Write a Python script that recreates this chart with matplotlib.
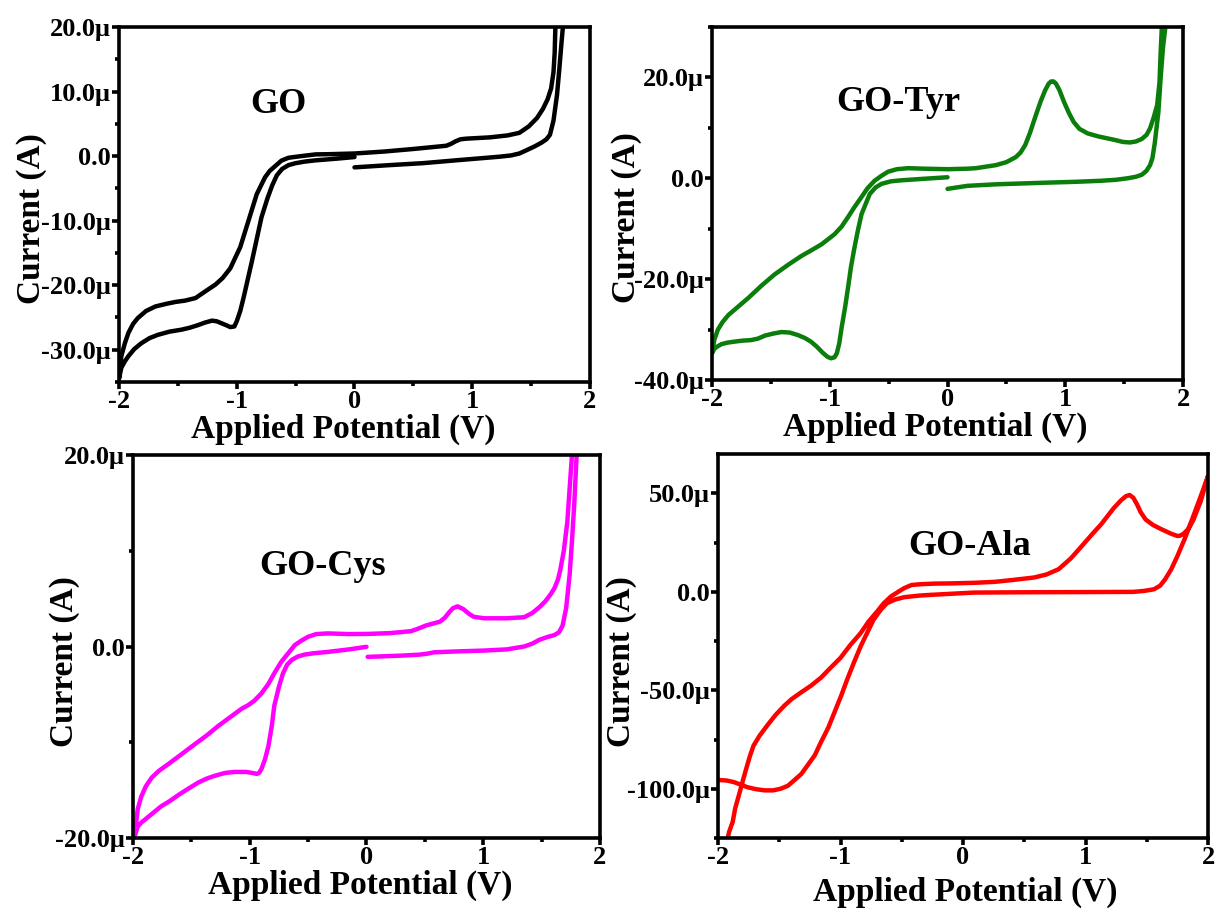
import matplotlib
matplotlib.use("Agg")
import matplotlib.pyplot as plt
from matplotlib.ticker import FuncFormatter, MultipleLocator

plt.rcParams['font.family'] = ['Liberation Serif', 'DejaVu Serif']
plt.rcParams['font.weight'] = 'bold'
plt.rcParams['axes.unicode_minus'] = False

# potentials (V) and currents (uA)
go_v = [0.0, 0.3, 0.58, 0.9, 1.23, 1.33, 1.40, 1.46, 1.53, 1.59, 1.63,
        1.66, 1.69, 1.72, 1.74, 1.76, 1.77, 1.78,
        1.71, 1.706, 1.70, 1.69, 1.67, 1.64, 1.60, 1.55, 1.48, 1.40, 1.30,
        1.15, 0.95, 0.90, 0.86, 0.82, 0.78, 0.5, 0.25, 0.0,
        -0.20, -0.33, -0.45, -0.56, -0.62, -0.67, -0.72, -0.76, -0.83, -0.90,
        -0.97, -1.055, -1.12, -1.18, -1.27, -1.35, -1.44, -1.52, -1.60, -1.69,
        -1.77, -1.84, -1.88, -1.92, -1.95, -1.98, -2.0,
        -1.98, -1.95, -1.92, -1.87, -1.81, -1.74, -1.67, -1.57, -1.47, -1.40,
        -1.33, -1.27, -1.21, -1.17, -1.13, -1.09, -1.055, -1.02, -1.0, -0.97,
        -0.94, -0.87, -0.79, -0.74, -0.70, -0.66, -0.615, -0.56, -0.50, -0.42,
        -0.33, -0.15, 0.0]
go_i = [-1.75, -1.4, -1.1, -0.6, -0.1, 0.1, 0.4, 0.9, 1.5, 2.1, 2.6,
        3.3, 5.5, 9.5, 13.6, 18.0, 20.0, 23.0,
        23.0, 20.0, 16.0, 13.0, 10.5, 8.8, 7.3, 5.9, 4.6, 3.6, 3.2,
        2.9, 2.7, 2.6, 2.3, 1.9, 1.6, 1.1, 0.7, 0.4,
        0.3, 0.26, 0.0, -0.26, -0.7, -1.5, -2.3, -3.3, -5.9, -10.0,
        -14.1, -17.4, -18.9, -19.9, -21.0, -22.0, -22.4, -22.6, -22.9, -23.3,
        -24.0, -25.1, -26.0, -27.4, -29.0, -31.0, -34.5,
        -32.8, -31.8, -31.0, -29.9, -29.0, -28.2, -27.7, -27.2, -26.9, -26.6,
        -26.2, -25.8, -25.5, -25.6, -25.9, -26.2, -26.5, -26.4, -25.6, -24.0,
        -21.8, -16.2, -9.5, -6.6, -4.6, -3.0, -2.0, -1.4, -1.1, -0.85,
        -0.66, -0.4, -0.15]

tyr_v = [0.0, 0.17, 0.41, 0.8, 1.09, 1.30, 1.43, 1.53, 1.60, 1.65, 1.69,
         1.72, 1.74, 1.76, 1.79, 1.81, 1.83, 1.85, 1.86,
         1.83, 1.82, 1.81, 1.80, 1.78, 1.75, 1.72, 1.69, 1.65, 1.60, 1.55,
         1.49, 1.42, 1.36, 1.28, 1.19, 1.12, 1.07, 1.03, 0.99, 0.95, 0.92,
         0.90, 0.88, 0.86, 0.83, 0.79, 0.75, 0.70, 0.66, 0.62, 0.58, 0.50,
         0.41, 0.24, 0.17, 0.0, -0.2, -0.335, -0.43, -0.505, -0.56, -0.62,
         -0.68, -0.73, -0.79, -0.845, -0.90, -0.96, -1.02, -1.07, -1.15,
         -1.24, -1.35, -1.47, -1.58, -1.69, -1.78, -1.86, -1.91, -1.95,
         -1.98, -2.0,
         -1.98, -1.95, -1.92, -1.87, -1.81, -1.74, -1.67, -1.61, -1.55,
         -1.48, -1.41, -1.34, -1.27, -1.21, -1.16, -1.11, -1.06, -1.02,
         -0.99, -0.96, -0.94, -0.92, -0.90, -0.87, -0.845, -0.82, -0.79,
         -0.76, -0.73, -0.69, -0.66, -0.61, -0.56, -0.48, -0.39, -0.2, 0.0]
tyr_i = [-2.1, -1.5, -1.2, -0.9, -0.7, -0.5, -0.3, 0.0, 0.3, 0.7, 1.5,
         2.6, 4.0, 7.0, 13.0, 20.0, 26.0, 30.0, 33.0,
         33.0, 30.0, 25.0, 19.0, 14.5, 12.0, 9.9, 8.6, 7.8, 7.3, 7.1,
         7.2, 7.6, 7.9, 8.3, 8.9, 9.8, 11.2, 13.0, 15.1, 17.5, 18.8,
         19.2, 19.2, 18.8, 17.5, 15.2, 12.5, 9.0, 6.6, 5.1, 4.2, 3.2,
         2.6, 2.0, 1.9, 1.8, 1.9, 2.0, 1.8, 1.3, 0.5, -0.5,
         -2.0, -3.7, -5.7, -7.7, -9.6, -11.1, -12.2, -13.1, -14.2,
         -15.4, -17.1, -19.1, -21.3, -23.7, -25.5, -27.1, -28.5, -30.0,
         -32.0, -34.7,
         -33.8, -33.3, -32.9, -32.6, -32.4, -32.2, -32.1, -31.8, -31.2,
         -30.8, -30.5, -30.6, -31.1, -31.7, -32.4, -33.4, -34.6, -35.4,
         -35.7, -35.5, -34.7, -32.8, -29.7, -25.6, -21.7, -17.6, -13.7,
         -10.2, -7.1, -4.8, -3.1, -1.8, -1.1, -0.6, -0.4, -0.1, 0.2]

cys_v = [0.01, 0.3, 0.45, 0.52, 0.58, 0.8, 1.01, 1.2, 1.35, 1.42, 1.48,
         1.55, 1.61, 1.65, 1.68, 1.71, 1.74, 1.76, 1.78, 1.80, 1.81,
         1.77, 1.76, 1.74, 1.72, 1.69, 1.66, 1.64, 1.61, 1.58, 1.53, 1.48,
         1.42, 1.35, 1.2, 1.01, 0.92, 0.88, 0.83, 0.78, 0.74, 0.71, 0.67,
         0.63, 0.57, 0.51, 0.45, 0.38, 0.2, 0.02, -0.15, -0.33, -0.43, -0.50,
         -0.56, -0.615, -0.67, -0.73, -0.79, -0.84, -0.90, -0.96, -1.01,
         -1.07, -1.17, -1.27, -1.37, -1.47, -1.59, -1.70, -1.78, -1.84,
         -1.89, -1.93, -1.96, -1.97, -1.99,
         -1.96, -1.93, -1.90, -1.83, -1.76, -1.68, -1.61, -1.52, -1.44,
         -1.37, -1.30, -1.21, -1.13, -1.08, -1.03, -0.98, -0.94, -0.92,
         -0.90, -0.87, -0.84, -0.81, -0.79, -0.75, -0.715, -0.68, -0.64,
         -0.59, -0.53, -0.45, -0.33, -0.15, 0.0]
cys_i = [-1.08, -0.95, -0.85, -0.75, -0.6, -0.5, -0.42, -0.3, 0.0, 0.3, 0.7,
         1.0, 1.2, 1.5, 2.2, 4.0, 7.5, 11.0, 15.0, 20.0, 22.0,
         22.0, 20.0, 16.5, 13.0, 10.0, 8.0, 7.0, 6.1, 5.5, 4.7, 4.1,
         3.5, 3.06, 2.95, 2.95, 3.1, 3.4, 3.9, 4.2, 4.0, 3.6, 3.0,
         2.6, 2.4, 2.2, 1.9, 1.6, 1.4, 1.32, 1.3, 1.37, 1.3, 1.02,
         0.6, 0.14, -0.7, -1.6, -2.8, -3.9, -4.9, -5.65, -6.1,
         -6.5, -7.4, -8.3, -9.3, -10.2, -11.3, -12.3, -13.0, -13.7,
         -14.6, -15.7, -17.0, -18.1, -20.0,
         -18.8, -18.4, -18.1, -17.4, -16.7, -16.1, -15.5, -14.8, -14.2,
         -13.8, -13.5, -13.2, -13.1, -13.1, -13.1, -13.2, -13.3, -13.2,
         -12.8, -11.8, -10.4, -8.2, -6.2, -4.2, -2.8, -1.9, -1.4,
         -1.05, -0.84, -0.7, -0.56, -0.3, -0.03]

ala_v = [-2.0, -1.93, -1.87, -1.76, -1.69, -1.62, -1.55, -1.49, -1.43,
         -1.38, -1.32, -1.27, -1.21, -1.16, -1.10, -1.05, -0.995, -0.945,
         -0.89, -0.835, -0.78, -0.73, -0.67, -0.62, -0.55, -0.48, -0.36,
         -0.26, 0.09, 0.5, 1.0, 1.39, 1.48, 1.56, 1.61, 1.65, 1.70, 1.75,
         1.81, 1.88, 1.94, 2.0,
         1.94, 1.88, 1.84, 1.80, 1.77, 1.75, 1.70, 1.62, 1.55, 1.49, 1.45,
         1.42, 1.39, 1.36, 1.33, 1.29, 1.23, 1.18, 1.13, 1.05, 0.97, 0.88,
         0.78, 0.68, 0.58, 0.40, 0.26, 0.09, -0.1, -0.23, -0.345, -0.42,
         -0.48, -0.53, -0.59, -0.65, -0.70, -0.77, -0.835, -0.92, -1.0,
         -1.08, -1.16, -1.24, -1.325, -1.40, -1.46, -1.53, -1.60, -1.66,
         -1.71, -1.74, -1.77, -1.80, -1.83, -1.86, -1.88, -1.91, -1.93]
ala_i = [-95.5, -95.8, -96.6, -99.2, -100.2, -100.8, -100.8, -100.0, -98.5,
         -95.8, -92.5, -88.2, -83.0, -76.4, -69.0, -61.3, -52.8, -44.4,
         -35.8, -27.6, -20.5, -14.1, -9.0, -5.7, -3.8, -2.7, -1.9,
         -1.5, -0.35, -0.2, -0.1, 0.0, 0.5, 1.35, 3.2, 6.4, 11.5, 18.2,
         27.0, 38.5, 48.5, 58.8,
         46.0, 36.5, 32.0, 29.5, 28.5, 28.4, 29.5, 31.8, 34.0, 36.8, 40.5,
         44.5, 47.8, 49.2, 48.6, 46.5, 42.5, 38.5, 34.5, 29.0, 23.3, 17.0,
         11.5, 8.8, 7.3, 6.0, 5.1, 4.6, 4.3, 4.2, 3.9, 3.5,
         1.9, 0.0, -2.4, -6.0, -9.9, -15.0, -20.9, -27.0, -33.5,
         -38.5, -43.6, -47.6, -51.2, -54.5, -57.9, -62.5, -68.0, -73.0,
         -78.1, -83.5, -89.9, -96.5, -103.4, -110.0, -116.8, -122.0, -128.0]

names = ['GO', 'GO-Tyr', 'GO-Cys', 'GO-Ala']
colors = ['black', '#0b7d0b', '#ff00ff', '#ff0000']
ylims = [(-35, 20), (-40, 30), (-20, 20), (-125, 70)]
ymajor = [10, 20, 20, 50]
yminor = [5, 10, 10, 25]

rects = [[0.0976, 0.5798, 0.3864, 0.3905],
         [0.5841, 0.5820, 0.3864, 0.3883],
         [0.1091, 0.0781, 0.3831, 0.4213],
         [0.5890, 0.0781, 0.4020, 0.4224]]
name_pos = [(0.338, 0.783), (0.395, 0.785), (0.407, 0.71), (0.514, 0.76)]
ylab_x = [-0.153, -0.149, -0.113, -0.165]
xlab = [(0.477, -0.09), (0.473, -0.09), (0.486, -0.084), (0.504, -0.10)]

data = [(go_v, go_i), (tyr_v, tyr_i), (cys_v, cys_i), (ala_v, ala_i)]


def cur_fmt(v, pos):
    if abs(v) < 1e-9:
        return '0.0'
    return '%.1f\u03bc' % v


fig = plt.figure(figsize=(12.19, 9.09), dpi=100)

for k in range(4):
    ax = fig.add_axes(rects[k])
    v, i = data[k]
    ax.plot(v, i, color=colors[k], lw=3.2, solid_joinstyle='round',
            solid_capstyle='round')
    ax.set_xlim(-2, 2)
    ax.set_ylim(*ylims[k])
    ax.xaxis.set_major_locator(MultipleLocator(1))
    ax.xaxis.set_minor_locator(MultipleLocator(0.5))
    ax.yaxis.set_major_locator(MultipleLocator(ymajor[k]))
    ax.yaxis.set_minor_locator(MultipleLocator(yminor[k]))
    ax.yaxis.set_major_formatter(FuncFormatter(cur_fmt))
    ax.xaxis.set_major_formatter(FuncFormatter(lambda x, p: '%d' % round(x)))
    for s in ax.spines.values():
        s.set_linewidth(2.6)
    ax.tick_params(which='major', direction='out', length=5, width=2.6,
                   labelsize=19, pad=1)
    ax.tick_params(which='minor', direction='out', length=3, width=2.6)
    ax.tick_params(top=False, right=False, which='both')
    ax.set_xlabel('Applied Potential (V)', fontsize=24, fontweight='bold')
    ax.set_ylabel('Current (A)', fontsize=24, fontweight='bold')
    ax.xaxis.set_label_coords(*xlab[k])
    ax.yaxis.set_label_coords(ylab_x[k], 0.46)
    ax.text(name_pos[k][0], name_pos[k][1], names[k], transform=ax.transAxes,
            ha='center', va='center', fontsize=26, fontweight='bold')

fig.savefig('out.png', dpi=100)
